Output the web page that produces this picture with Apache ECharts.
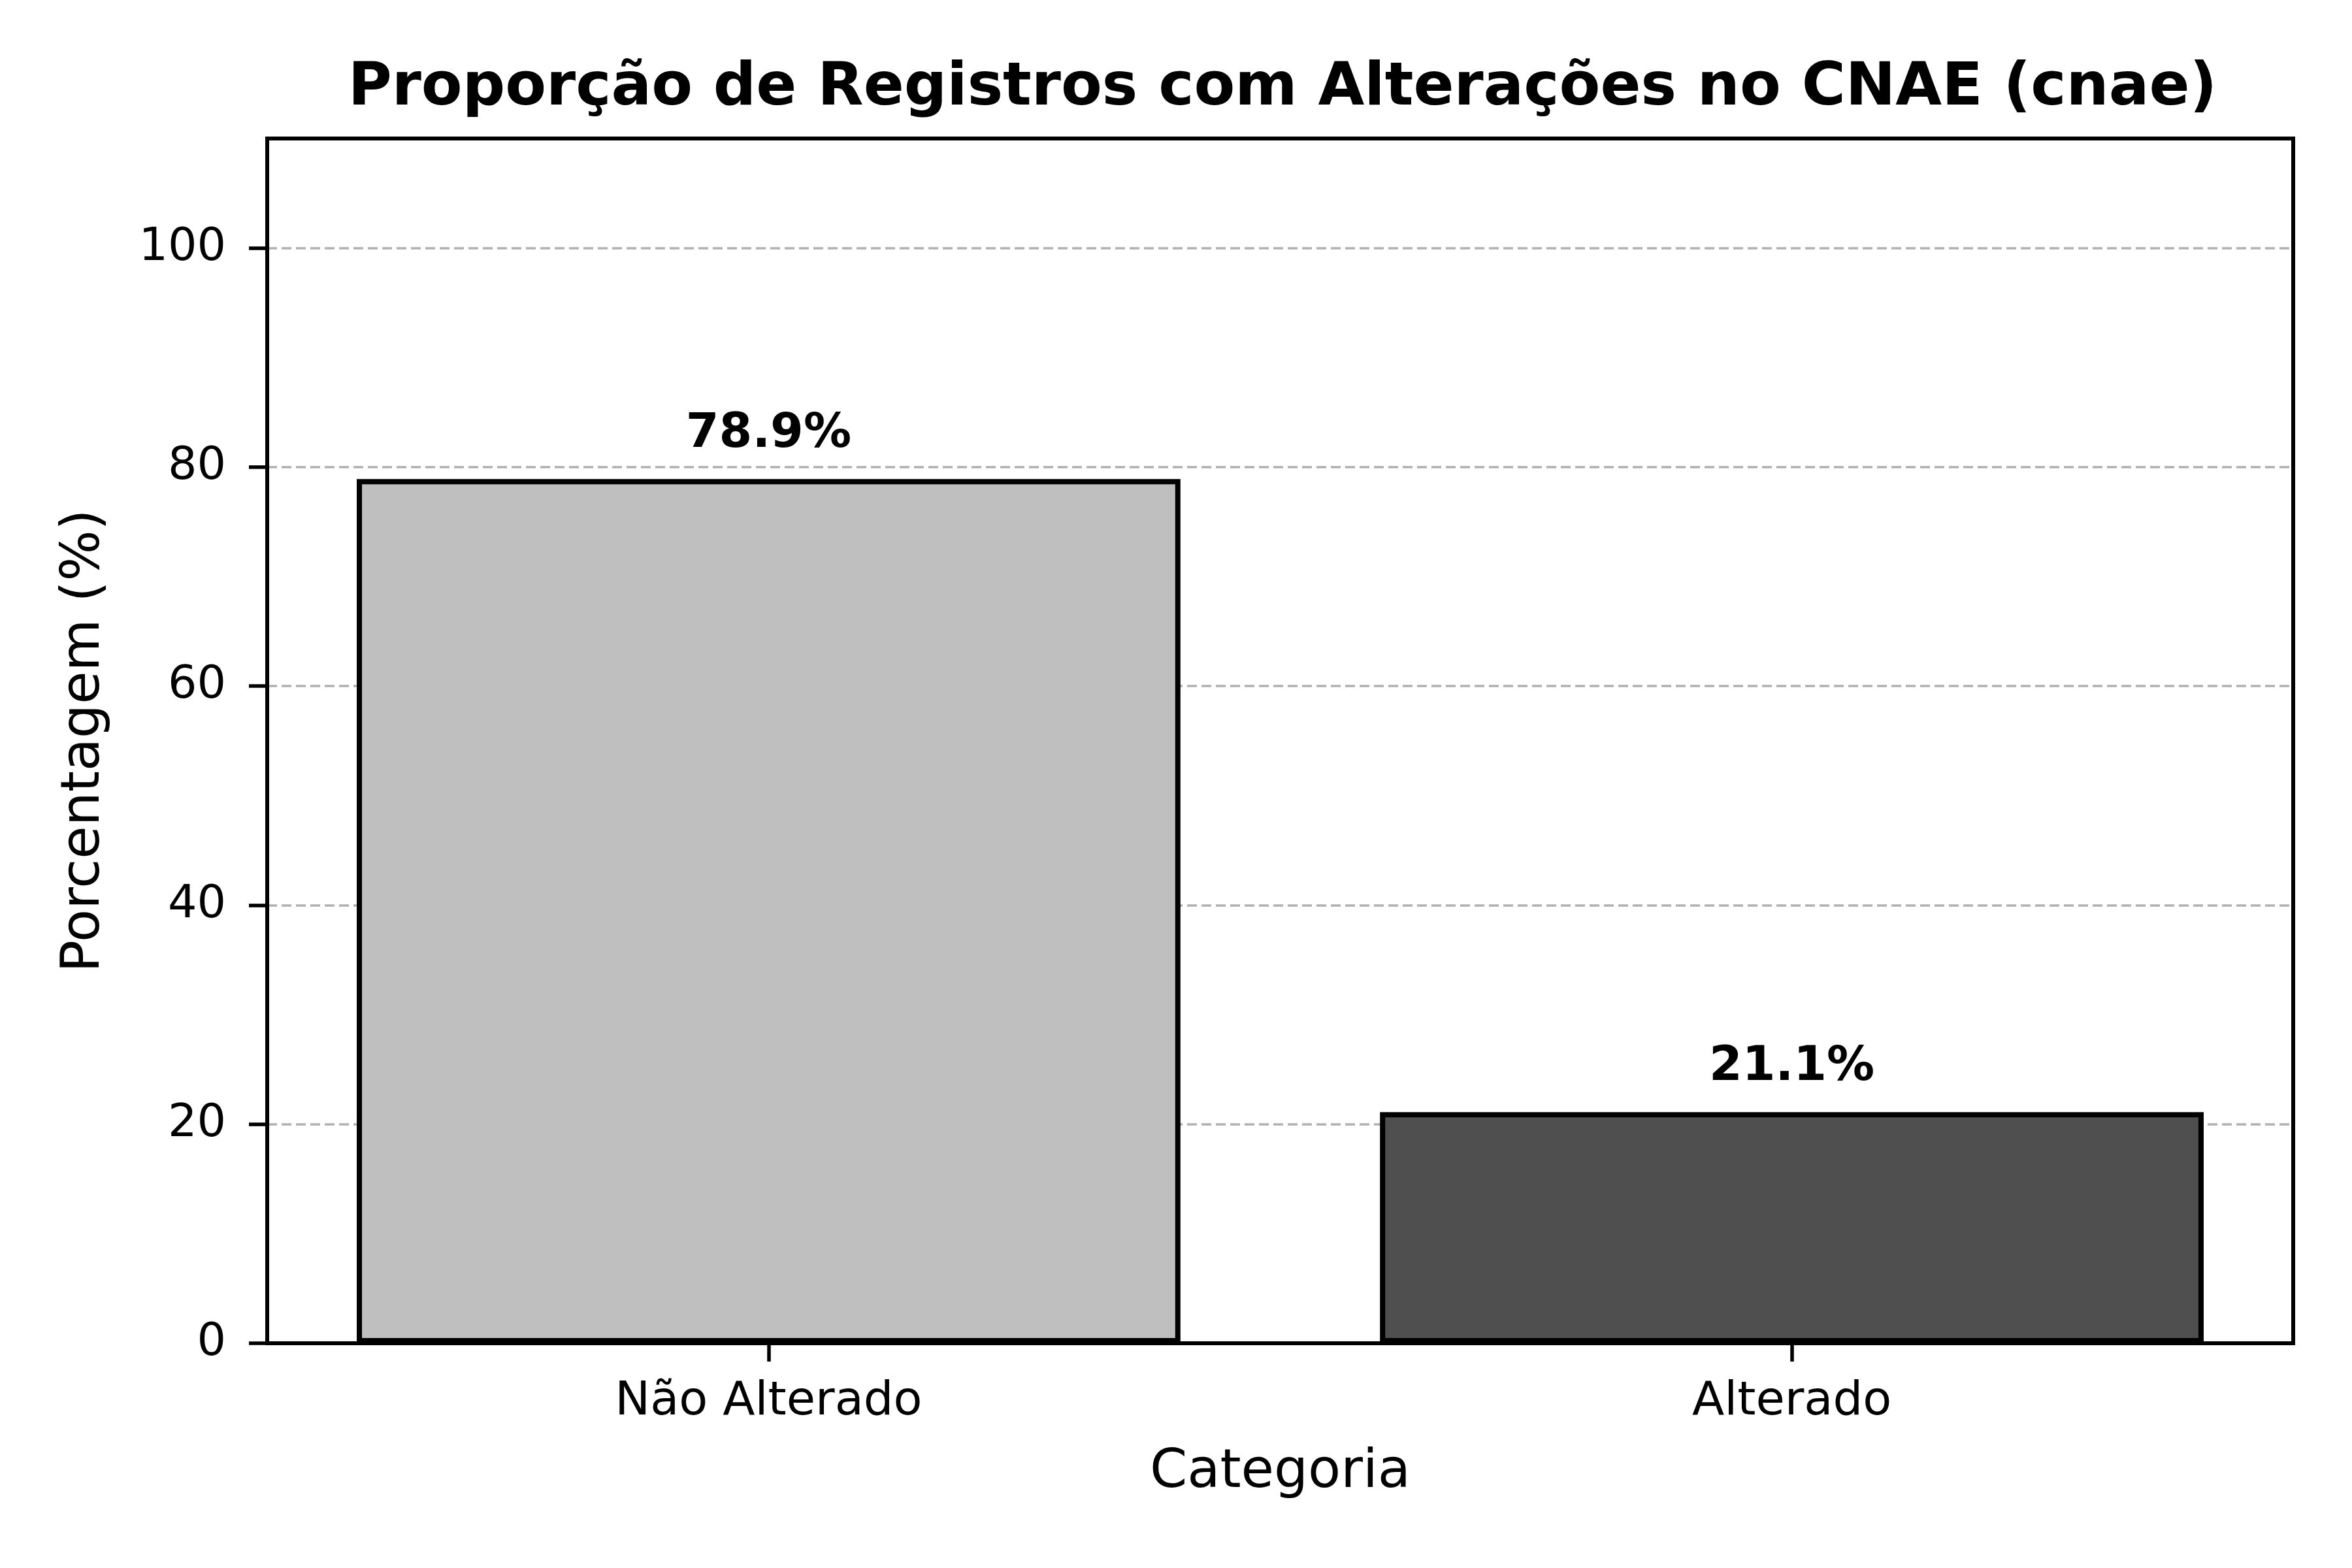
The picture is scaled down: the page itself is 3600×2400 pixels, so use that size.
<!DOCTYPE html>
<html>
<head>
<meta charset="utf-8">
<script src="https://cdn.jsdelivr.net/npm/echarts@6/dist/echarts.min.js"></script>
<style>html,body{margin:0;padding:0;background:#fff}#c{width:3600px;height:2400px}</style>
</head>
<body>
<div id="c"></div>
<script>
const categories = ['Não Alterado', 'Alterado'];
const values = [78.9, 21.1];
const barColors = ['#bfbfbf', '#4f4f4f'];
const yTicks = [0, 20, 40, 60, 80, 100];
const titleText = 'Proporção de Registros com Alterações no CNAE (cnae)';
const xName = 'Categoria';
const yName = 'Porcentagem (%)';

const FONT = 'DejaVu Sans';
const xPositions = categories.map((c, i) => i);
const chart = echarts.init(document.getElementById('c'), null, {renderer: 'canvas'});
chart.setOption({
  backgroundColor: '#ffffff',
  animation: false,
  title: {
    text: titleText,
    left: 1958,
    top: 85,
    textAlign: 'center',
    textStyle: {fontFamily: FONT, fontWeight: 'bold', fontSize: 91.5, color: '#000'}
  },
  grid: {
    left: 409, right: 90, top: 212, bottom: 344,
    show: true, borderColor: '#000', borderWidth: 6, backgroundColor: 'transparent'
  },
  xAxis: {
    type: 'value',
    min: -0.49,
    max: 1.49,
    name: xName,
    nameLocation: 'middle',
    nameGap: 158,
    nameTextStyle: {fontFamily: FONT, fontSize: 82, color: '#000', verticalAlign: 'top'},
    axisLine: {show: true, onZero: false, lineStyle: {color: '#000', width: 6}},
    axisTick: {show: true, length: 28, lineStyle: {color: '#000', width: 5.5}, customValues: xPositions},
    axisLabel: {
      fontFamily: FONT, fontSize: 72, color: '#000', margin: 54,
      customValues: xPositions,
      formatter: v => categories[Math.round(v)] || ''
    },
    splitLine: {show: false}
  },
  yAxis: {
    type: 'value',
    min: 0,
    max: 110,
    interval: 20,
    name: yName,
    nameLocation: 'middle',
    nameRotate: 90,
    nameGap: 238,
    nameTextStyle: {fontFamily: FONT, fontSize: 82, color: '#000'},
    axisLine: {show: true, onZero: false, lineStyle: {color: '#000', width: 6}},
    axisTick: {show: true, length: 28, lineStyle: {color: '#000', width: 5.5}, customValues: yTicks},
    axisLabel: {fontFamily: FONT, fontSize: 70, color: '#000', margin: 63, customValues: yTicks},
    splitLine: {show: true, lineStyle: {color: '#b0b0b0', width: 3.5, type: [15, 7]}}
  },
  series: [{
    type: 'bar',
    barWidth: '80.5%',
    data: values.map((v, i) => ({
      value: [xPositions[i], v],
      itemStyle: {color: barColors[i], borderColor: '#000', borderWidth: 8}
    })),
    label: {
      show: true,
      position: 'top',
      distance: 32,
      formatter: p => p.value[1].toFixed(1) + '%',
      fontFamily: FONT, fontWeight: 'bold', fontSize: 73, color: '#000'
    },
    z: 3
  }]
});
</script>
</body>
</html>
